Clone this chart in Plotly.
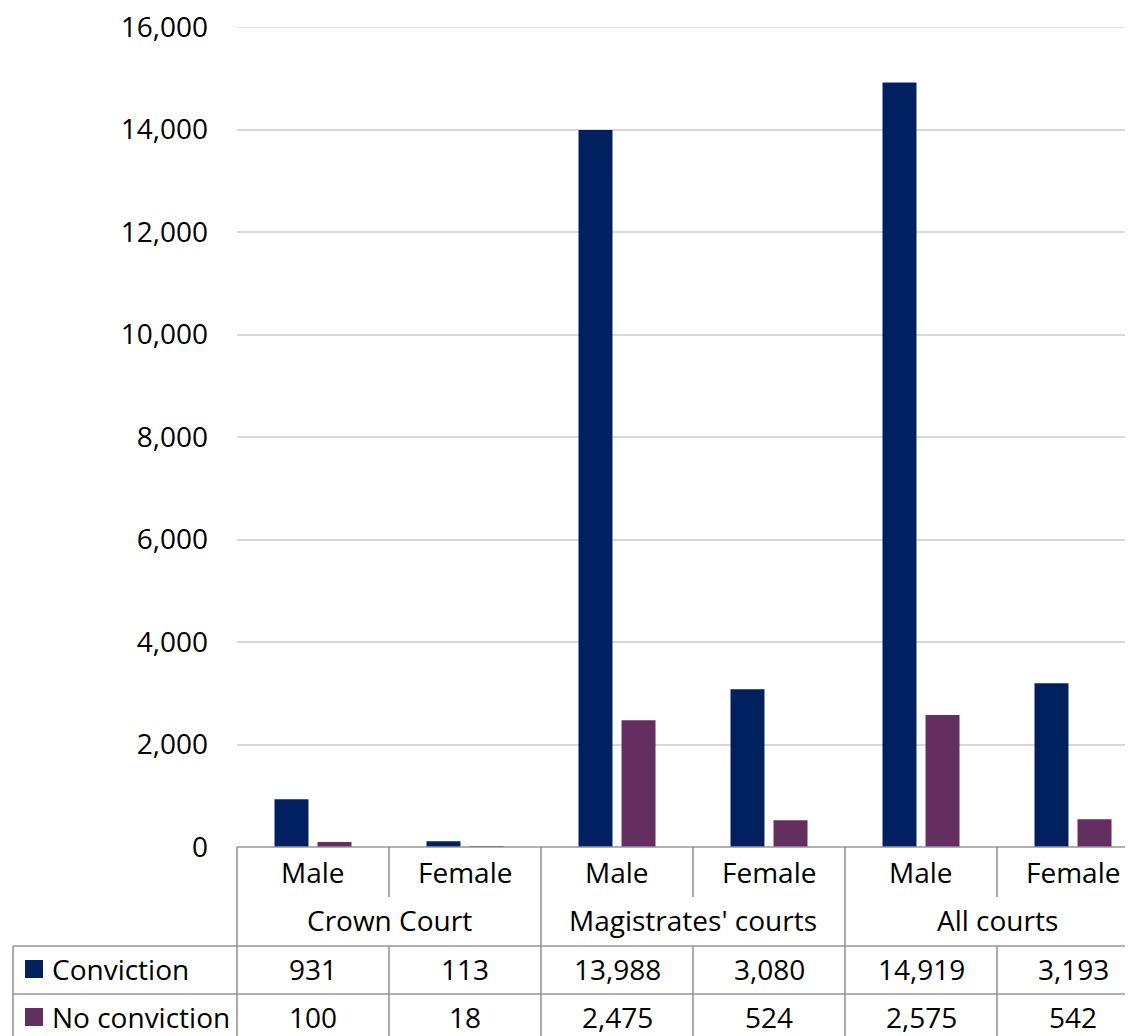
import plotly.graph_objects as go

# ---- data ----
courts = ["Crown Court", "Magistrates' courts", "All courts"]
sexes = ["Male", "Female", "Male", "Female", "Male", "Female"]
series_names = ["Conviction", "No conviction"]
conviction = [931, 113, 13988, 3080, 14919, 3193]
no_conviction = [100, 18, 2475, 524, 2575, 542]
y_ticks = [0, 2000, 4000, 6000, 8000, 10000, 12000, 14000, 16000]

# ---- styling ----
OFF = 8  # page body margin
W, H = 1133 - OFF, 1036 - OFF
L, R, T = 237 - OFF, 0, 27 - OFF
B = H - (847 - OFF)
PW = W - L - R
PH = H - T - B
CAT_W = 152
FONT = "Open Sans"
FS = 28
BLUE = "#012060"
PURPLE = "#652E61"
GRID = "#D9D9D9"
BORDER = "#969696"

# reference-screen pixel -> paper coordinates
def px_x(px):
    return (px - OFF - L) / PW

def px_y(py):
    return (H - B - (py - OFF)) / PH

def cat_px(i):
    return 237 + (i + 0.5) * CAT_W

x = list(range(len(sexes)))

fig = go.Figure()
fig.add_trace(go.Bar(x=x, y=conviction, name=series_names[0], marker_color=BLUE,
                     marker_line_width=0))
fig.add_trace(go.Bar(x=x, y=no_conviction, name=series_names[1], marker_color=PURPLE,
                     marker_line_width=0))

shapes = []
annotations = []

# top gridline (plotly hides the gridline on the range edge)
shapes.append(dict(type="line", xref="paper", yref="y", x0=0, x1=1,
                   y0=y_ticks[-1], y1=y_ticks[-1], line=dict(color=GRID, width=1.5),
                   layer="below"))

def hline(y, x0, x1):
    shapes.append(dict(type="line", xref="paper", yref="paper",
                       x0=px_x(x0), x1=px_x(x1), y0=px_y(y), y1=px_y(y),
                       line=dict(color=BORDER, width=1.6), layer="above"))

def vline(xp, y0, y1):
    shapes.append(dict(type="line", xref="paper", yref="paper",
                       x0=px_x(xp), x1=px_x(xp), y0=px_y(y0), y1=px_y(y1),
                       line=dict(color=BORDER, width=1.6), layer="above"))

Y_AX = 847
Y_SEX_END = 897
Y_TAB = 946
Y_ROW2 = 994
Y_BOT = 1045
X_LEFT = 13
right = 1133 + 20
n = len(sexes)

hline(Y_AX, 237, right)
hline(Y_TAB, X_LEFT, right)
hline(Y_ROW2, X_LEFT, right)
hline(Y_BOT, X_LEFT, right)
vline(X_LEFT, Y_TAB, Y_BOT)
for i in range(n + 1):
    xp = 237 + i * CAT_W
    if i % 2 == 0:
        vline(xp, Y_AX, Y_BOT)
    else:
        vline(xp, Y_AX, Y_SEX_END)
        vline(xp, Y_TAB, Y_BOT)

for i, s in enumerate(sexes):
    annotations.append(dict(text=s, xref="paper", yref="paper", x=px_x(cat_px(i)), y=px_y(872),
                            showarrow=False, xanchor="center", yanchor="middle",
                            font=dict(family=FONT, size=FS, color="black")))
for j, c in enumerate(courts):
    annotations.append(dict(text=c, xref="paper", yref="paper",
                            x=px_x(237 + (2 * j + 1) * CAT_W), y=px_y(920),
                            showarrow=False, xanchor="center", yanchor="middle",
                            font=dict(family=FONT, size=FS, color="black")))

rows = [(series_names[0], conviction, BLUE, 969), (series_names[1], no_conviction, PURPLE, 1017)]
for name, vals, col, yc in rows:
    shapes.append(dict(type="rect", xref="paper", yref="paper",
                       x0=px_x(25), x1=px_x(43), y0=px_y(yc - 9), y1=px_y(yc + 9),
                       fillcolor=col, line=dict(width=0), layer="above"))
    annotations.append(dict(text=name, xref="paper", yref="paper", x=px_x(50), y=px_y(yc),
                            showarrow=False, xanchor="left", yanchor="middle",
                            font=dict(family=FONT, size=FS, color="black")))
    for i, v in enumerate(vals):
        annotations.append(dict(text=f"{v:,}", xref="paper", yref="paper",
                                x=px_x(cat_px(i)), y=px_y(yc),
                                showarrow=False, xanchor="center", yanchor="middle",
                                font=dict(family=FONT, size=FS, color="black")))

fig.update_layout(
    width=W, height=H,
    margin=dict(l=L, r=R, t=T, b=B, pad=0),
    paper_bgcolor="white", plot_bgcolor="white",
    barmode="group", bargap=0.434, bargroupgap=0.21,
    showlegend=False,
    font=dict(family=FONT, size=FS, color="black"),
    shapes=shapes, annotations=annotations,
    xaxis=dict(range=[-0.5, -0.5 + PW / CAT_W], showticklabels=False, showgrid=False,
               zeroline=False, showline=False, fixedrange=True),
    yaxis=dict(range=[0, 16000], tickvals=y_ticks, tickformat=",", showgrid=True,
               gridcolor=GRID, gridwidth=1.5, zeroline=False, showline=False,
               ticks="", ticklabelstandoff=28, ticklabeloverflow="allow",
               tickfont=dict(family=FONT, size=FS, color="black")),
)

fig.write_html("out.html")
